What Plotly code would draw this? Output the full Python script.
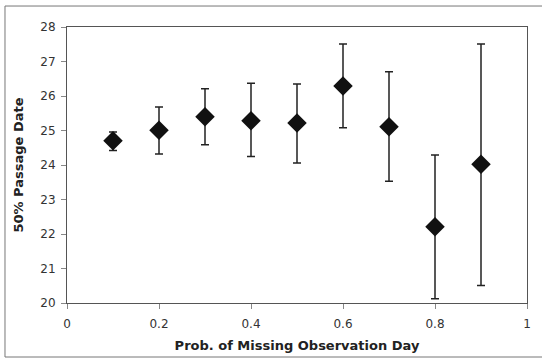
import plotly.graph_objects as go

prob = [0.1, 0.2, 0.3, 0.4, 0.5, 0.6, 0.7, 0.8, 0.9]
passage_date = [24.70, 25.01, 25.40, 25.28, 25.22, 26.29, 25.11, 22.21, 24.02]
upper = [24.96, 25.68, 26.21, 26.37, 26.35, 27.51, 26.70, 24.29, 27.51]
lower = [24.42, 24.32, 24.59, 24.25, 24.06, 25.08, 23.53, 20.12, 20.51]

x_ticks = [0, 0.2, 0.4, 0.6, 0.8, 1]
x_tick_labels = ["0", "0.2", "0.4", "0.6", "0.8", "1"]
y_ticks = [20, 21, 22, 23, 24, 25, 26, 27, 28]

err_plus = [u - v for u, v in zip(upper, passage_date)]
err_minus = [v - l for v, l in zip(passage_date, lower)]

fig = go.Figure()
fig.add_trace(go.Scatter(
    x=prob, y=passage_date, mode="markers",
    marker=dict(symbol="diamond", size=15, color="#111111", line=dict(width=0)),
    error_y=dict(type="data", symmetric=False, array=err_plus, arrayminus=err_minus,
                 color="#222222", thickness=1.5, width=4),
    showlegend=False,
    cliponaxis=False,
))

font_family = "DejaVu Sans, Liberation Sans, Arial, sans-serif"

fig.update_layout(
    width=542, height=359,
    margin=dict(l=67, r=15, t=27, b=56, autoexpand=False),
    paper_bgcolor="white", plot_bgcolor="white",
    font=dict(family=font_family, size=12, color="#333333"),
    xaxis=dict(
        range=[0, 1], tickvals=x_ticks, ticktext=x_tick_labels,
        showgrid=False, zeroline=False, automargin=False,
        showline=True, linecolor="#555555", linewidth=1, mirror=True,
        ticks="outside", ticklen=5, tickcolor="#888888",
        ticklabelstandoff=5,
        tickfont=dict(size=12, color="#333333"),
        title=dict(text="<b>Prob. of Missing Observation Day</b>",
                   font=dict(size=13, color="#222222"), standoff=10),
    ),
    yaxis=dict(
        range=[20, 28], tickvals=y_ticks,
        showgrid=False, zeroline=False, automargin=False,
        showline=True, linecolor="#555555", linewidth=1, mirror=True,
        ticks="outside", ticklen=5, tickcolor="#888888",
        ticklabelstandoff=3,
        tickfont=dict(size=12, color="#333333"),
        title=dict(text="<b>50% Passage Date</b>",
                   font=dict(size=13, color="#222222"), standoff=13),
    ),
)

# outer frame (left, top, bottom edges; right edge lies beyond the picture)
frame_color = "#777777"
fx0, fx1, fy0, fy1 = -0.1348, 1.1, -0.1957, 1.076
for (a, b, c, d) in [(fx0, fy0, fx0, fy1), (fx0, fy1, fx1, fy1), (fx0, fy0, fx1, fy0)]:
    fig.add_shape(type="line", xref="paper", yref="paper",
                  x0=a, y0=b, x1=c, y1=d,
                  line=dict(color=frame_color, width=1))

fig.write_html("out.html",
               config={"displayModeBar": False},
               post_script="document.body.style.margin='0';document.body.style.overflow='hidden';")
